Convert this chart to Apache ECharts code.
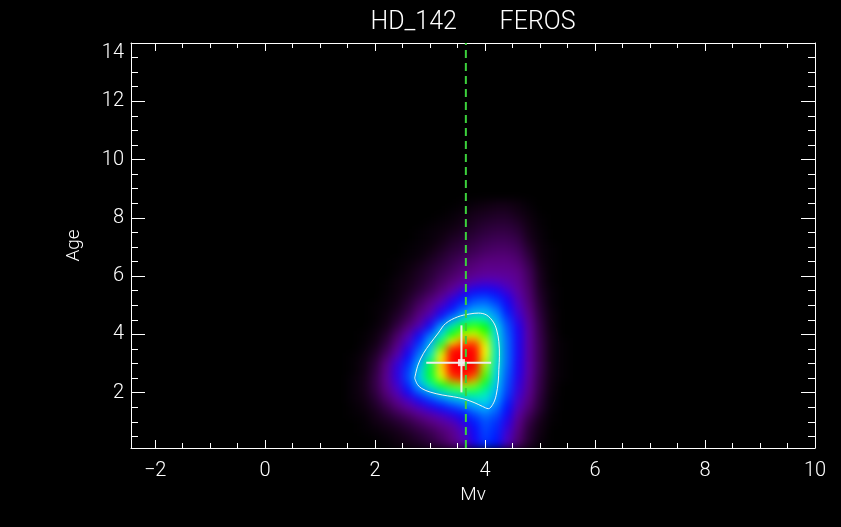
<!DOCTYPE html>
<html>
<head>
<meta charset="utf-8">
<script src="https://cdn.jsdelivr.net/npm/echarts@6/dist/echarts.min.js"></script>
<style>
html, body { margin: 0; padding: 0; background: #000; }
#chart { width: 841px; height: 527px; }
</style>
</head>
<body>
<div id="chart"></div>
<script>
// ---------------- data ----------------
const titleText = 'HD_142       FEROS';
const xName = 'Mv';
const yName = 'Age';
const xRange = [-2.44, 10];
const yRange = [0.1, 14];

// density grid (cell centres), 0..100
const xCells = [1.6, 1.8, 2.0, 2.2, 2.4, 2.6, 2.8, 3.0, 3.2, 3.4, 3.6, 3.8, 4.0, 4.2, 4.4, 4.6, 4.8, 5.0, 5.2, 5.4];
const yCells = [8.5, 8.25, 8.0, 7.75, 7.5, 7.25, 7.0, 6.75, 6.5, 6.25, 6.0, 5.75, 5.5, 5.25, 5.0, 4.75, 4.5, 4.25, 4.0, 3.75, 3.5, 3.25, 3.0, 2.75, 2.5, 2.25, 2.0, 1.75, 1.5, 1.25, 1.0, 0.75, 0.5, 0.25, 0.0];
const density = [
  [0,0,0,0,0,0,0,0,0,0,1,2,3,4,4,3,1,0,0,0],
  [0,0,0,0,0,0,0,0,0,1,2,4,5,6,6,4,2,0,0,0],
  [0,0,0,0,0,0,0,0,1,2,4,6,7,8,8,6,3,1,0,0],
  [0,0,0,0,0,0,0,1,2,3,5,7,9,10,10,8,4,1,0,0],
  [0,0,0,0,0,0,1,2,3,5,7,9,11,12,12,10,5,2,0,0],
  [0,0,0,0,0,0,1,2,4,7,9,11,13,14,14,12,6,2,0,0],
  [0,0,0,0,0,1,2,3,6,9,11,13,15,16,16,14,8,3,1,0],
  [0,0,0,0,0,1,2,5,8,11,13,15,17,18,18,16,10,3,1,0],
  [0,0,0,0,1,2,4,7,10,13,16,18,20,20,20,18,12,4,1,0],
  [0,0,0,0,1,3,6,9,12,15,18,20,22,22,22,20,14,5,1,0],
  [0,0,0,0,2,4,7,10,14,17,20,23,25,25,24,22,15,6,1,0],
  [0,0,0,1,3,5,8,12,16,20,25,29,31,30,27,23,16,6,1,0],
  [0,0,0,1,3,6,10,14,19,25,32,37,38,36,31,25,17,7,2,0],
  [0,0,0,2,4,8,13,18,24,32,39,44,45,42,35,27,18,8,2,0],
  [0,0,1,2,5,10,16,22,30,37,44,49,50,46,38,29,19,9,2,0],
  [0,0,1,3,7,12,19,26,35,43,51,56,56,51,41,31,21,10,3,0],
  [0,0,1,4,9,15,23,32,43,53,61,65,63,54,44,33,23,11,3,0],
  [0,0,2,5,12,19,28,39,54,64,70,72,70,59,46,35,24,12,3,0],
  [0,1,3,8,16,26,37,48,60,70,76,78,73,60,47,36,25,12,4,0],
  [0,1,4,10,19,30,42,54,67,80,86,87,77,61,48,36,25,13,4,1],
  [0,2,6,13,23,34,46,58,74,92,98,96,80,62,48,36,25,13,4,1],
  [1,3,8,16,27,38,50,63,80,97,100,97,79,62,48,36,25,13,4,1],
  [1,4,10,20,32,42,54,67,82,98,100,96,76,61,48,35,25,13,4,1],
  [1,4,11,21,33,44,57,68,81,96,97,93,74,60,47,35,25,13,4,1],
  [2,5,12,22,33,45,58,68,78,88,91,86,72,59,46,34,24,12,4,1],
  [2,5,12,21,31,42,54,63,69,73,75,74,67,57,45,33,23,12,3,0],
  [2,5,11,19,28,37,46,53,60,64,66,66,63,55,44,32,22,11,3,0],
  [2,4,9,16,23,30,37,43,48,53,56,59,60,53,42,30,20,10,2,0],
  [1,3,7,12,18,24,29,34,39,43,47,52,55,49,40,28,18,9,2,0],
  [1,2,5,9,13,17,22,26,30,34,39,45,49,46,37,25,15,7,1,0],
  [0,1,4,6,9,12,16,20,24,28,34,41,46,43,34,22,12,5,1,0],
  [0,1,2,4,6,9,12,15,19,23,30,38,45,42,32,20,10,4,0,0],
  [0,0,1,2,4,6,9,12,16,21,28,37,44,41,30,18,9,3,0,0],
  [0,0,0,1,3,5,7,10,14,19,26,36,43,40,29,17,8,2,0,0],
  [0,0,0,1,2,4,6,9,13,18,25,35,42,39,28,16,7,2,0,0]
];

// white contour
const contourX = [2.72, 2.78, 2.88, 3.00, 3.15, 3.28, 3.50, 3.72, 3.88, 4.03, 4.15, 4.21, 4.25, 4.26, 4.25, 4.24, 4.20, 4.14, 4.06, 3.95, 3.80, 3.62, 3.42, 3.22, 3.00, 2.85, 2.77, 2.72];
const contourY = [2.50, 2.95, 3.35, 3.68, 4.05, 4.37, 4.60, 4.70, 4.73, 4.66, 4.42, 4.15, 3.75, 3.25, 2.80, 2.40, 1.90, 1.60, 1.45, 1.53, 1.66, 1.78, 1.86, 1.92, 2.02, 2.14, 2.28, 2.50];

// best value with error bars
const bestX = 3.57, bestY = 3.03;
const xErrLo = 2.93, xErrHi = 4.11;
const yErrLo = 2.01, yErrHi = 4.31;

// green dashed reference line
const refX = 3.65;

// ---------------- build ----------------
const cellW = 0.2, cellH = 0.25;
const heatData = [];
yCells.forEach((y, i) => {
  xCells.forEach((x, j) => {
    const v = density[i][j];
    if (v > 0) heatData.push([x, y, v]);
  });
});
const contourData = contourX.map((x, i) => [x, contourY[i]]);

const FONT = 'Roboto';
const WHITE = '#ffffff';
const fmt = v => String(v).replace('-', '\u2212');

const chart = echarts.init(document.getElementById('chart'), null, { renderer: 'canvas' });

const commonAxis = {
  type: 'value',
  axisLine: { show: true, onZero: false, lineStyle: { color: WHITE, width: 1 } },
  splitLine: { show: false },
  zlevel: 1
};

const option = {
  backgroundColor: '#000',
  animation: false,
  title: {
    text: titleText,
    left: 473,
    top: 10,
    padding: 0,
    textAlign: 'center',
    zlevel: 1,
    textStyle: { color: WHITE, fontFamily: FONT, fontWeight: 300, fontSize: 25 }
  },
  grid: { left: 131, top: 43, width: 684, height: 405, containLabel: false },
  visualMap: {
    type: 'continuous', show: false, min: 0, max: 100, dimension: 2, seriesIndex: 0,
    inRange: {
      color: ['#000000', '#150018', '#2a0038', '#42005c', '#5a0080', '#5e00a0', '#4a00c8', '#2000f0',
              '#0010ff', '#0048ff', '#0080ff', '#00b4ff', '#00e0e0', '#00ff90', '#00ff00', '#a0ff00',
              '#ffff00', '#ff9000', '#ff2000', '#ff0000', '#ff0000']
    }
  },
  xAxis: [
    Object.assign({}, commonAxis, {
      min: xRange[0], max: xRange[1], splitNumber: 6, position: 'bottom',
      name: xName, nameLocation: 'middle', nameGap: 37,
      nameTextStyle: { color: WHITE, fontFamily: FONT, fontWeight: 300, fontSize: 19 },
      axisTick: { show: true, inside: true, length: 8, lineStyle: { color: WHITE } },
      minorTick: { show: true, splitNumber: 4, length: 5, lineStyle: { color: WHITE } },
      axisLabel: { color: WHITE, fontFamily: FONT, fontWeight: 300, fontSize: 20, margin: 13, showMinLabel: false, formatter: fmt }
    }),
    Object.assign({}, commonAxis, {
      min: xRange[0], max: xRange[1], splitNumber: 6, position: 'top',
      axisTick: { show: true, inside: true, length: 8, lineStyle: { color: WHITE } },
      minorTick: { show: true, splitNumber: 4, length: 5, lineStyle: { color: WHITE } },
      axisLabel: { show: false }
    })
  ],
  yAxis: [
    Object.assign({}, commonAxis, {
      min: yRange[0], max: yRange[1], splitNumber: 7, position: 'left',
      name: yName, nameLocation: 'middle', nameGap: 47,
      nameTextStyle: { color: WHITE, fontFamily: FONT, fontWeight: 300, fontSize: 19 },
      axisTick: { show: true, inside: true, length: 14, lineStyle: { color: WHITE } },
      minorTick: { show: true, splitNumber: 4, length: 7, lineStyle: { color: WHITE } },
      axisLabel: {
        color: WHITE, fontFamily: FONT, fontWeight: 300, fontSize: 20, margin: 7, showMinLabel: false,
        formatter: v => (v === yRange[1] ? '{top|' + fmt(v) + '}' : fmt(v)),
        rich: { top: { color: WHITE, fontFamily: FONT, fontWeight: 300, fontSize: 20, padding: [20, 0, 0, 0] } }
      }
    }),
    Object.assign({}, commonAxis, {
      min: yRange[0], max: yRange[1], splitNumber: 7, position: 'right',
      axisTick: { show: true, inside: true, length: 14, lineStyle: { color: WHITE } },
      minorTick: { show: true, splitNumber: 4, length: 7, lineStyle: { color: WHITE } },
      axisLabel: { show: false }
    })
  ],
  series: [
    {
      type: 'custom',
      name: 'density',
      coordinateSystem: 'cartesian2d',
      xAxisIndex: 0, yAxisIndex: 0,
      zlevel: 0,
      clip: true,
      silent: true,
      encode: { x: 0, y: 1 },
      data: heatData,
      renderItem: function (params, api) {
        const x = api.value(0), y = api.value(1);
        const p0 = api.coord([x - cellW / 2, y + cellH / 2]);
        const p1 = api.coord([x + cellW / 2, y - cellH / 2]);
        return {
          type: 'rect',
          shape: { x: p0[0], y: p0[1], width: p1[0] - p0[0] + 0.6, height: p1[1] - p0[1] + 0.6 },
          style: { fill: api.visual('color') }
        };
      }
    },
    {
      type: 'line', name: 'contour', zlevel: 1, xAxisIndex: 0, yAxisIndex: 0,
      data: contourData, smooth: 0.35, symbol: 'none', silent: true,
      lineStyle: { color: '#f2f2f2', width: 1 }
    },
    {
      type: 'line', name: 'xerr', zlevel: 1,
      data: [[xErrLo, bestY], [xErrHi, bestY]], symbol: 'none', silent: true,
      lineStyle: { color: '#eeeeee', width: 2 }
    },
    {
      type: 'line', name: 'yerr', zlevel: 1,
      data: [[bestX, yErrLo], [bestX, yErrHi]], symbol: 'none', silent: true,
      lineStyle: { color: '#eeeeee', width: 2 }
    },
    {
      type: 'line', name: 'ref', zlevel: 1,
      data: [[refX, yRange[0]], [refX, yRange[1]]], symbol: 'none', silent: true,
      lineStyle: { color: '#3cd23c', width: 2, type: [8, 5] }
    },
    {
      type: 'scatter', name: 'best', zlevel: 1,
      data: [[bestX, bestY]], symbol: 'rect', symbolSize: 7, silent: true,
      itemStyle: { color: '#ffffff' }
    }
  ]
};

chart.setOption(option);

// smooth the density layer (its own canvas) and clip it to the plot box
(function () {
  const cv = document.querySelector('#chart canvas[data-zr-dom-id="zr_0"]');
  if (!cv) return;
  const tl = chart.convertToPixel({ xAxisIndex: 0, yAxisIndex: 0 }, [xRange[0], yRange[1]]);
  const br = chart.convertToPixel({ xAxisIndex: 0, yAxisIndex: 0 }, [xRange[1], yRange[0]]);
  cv.style.filter = 'blur(4px)';
  cv.style.clipPath = 'inset(' + tl[1] + 'px ' + (chart.getWidth() - br[0]) + 'px ' + (chart.getHeight() - br[1]) + 'px ' + tl[0] + 'px)';
})();
</script>
</body>
</html>
